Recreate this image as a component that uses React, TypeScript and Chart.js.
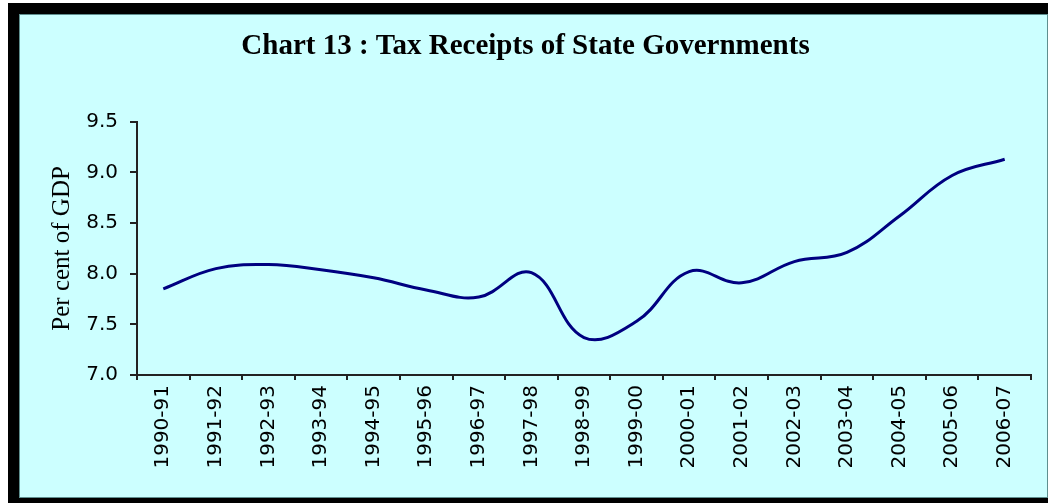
import React, { useEffect, useRef } from "react";
import { Chart, registerables } from "chart.js";

Chart.register(...registerables);

const categories = [
  "1990-91", "1991-92", "1992-93", "1993-94", "1994-95", "1995-96",
  "1996-97", "1997-98", "1998-99", "1999-00", "2000-01", "2001-02",
  "2002-03", "2003-04", "2004-05", "2005-06", "2006-07",
];

const taxReceipts = [
  7.85, 8.05, 8.09, 8.04, 7.96, 7.84, 7.77, 8.01, 7.37, 7.53, 8.02, 7.91,
  8.12, 8.21, 8.57, 8.97, 9.13,
];

const yTicks = [7.0, 7.5, 8.0, 8.5, 9.0, 9.5];

const titleText = "Chart 13 : Tax Receipts of State Governments";
const yTitle = "Per cent of GDP";

const CW = 1027;
const CH = 482;

export default function App() {
  const ref = useRef<HTMLCanvasElement | null>(null);

  useEffect(() => {
    if (!ref.current) return;
    const chart = new Chart(ref.current, {
      type: "line",
      data: {
        labels: categories,
        datasets: [
          {
            data: taxReceipts,
            borderColor: "#000080",
            borderWidth: 3,
            pointRadius: 0,
            tension: 0.4,
            fill: false,
          },
        ],
      },
      options: {
        responsive: false,
        animation: false,
        devicePixelRatio: 1,
        layout: { padding: { left: 0, right: 16, top: 0, bottom: 0 } },
        plugins: {
          legend: { display: false },
          tooltip: { enabled: false },
          title: {
            display: true,
            text: titleText,
            color: "#000",
            font: { family: "'Liberation Serif', 'Times New Roman', serif", size: 29, weight: "bold" },
            padding: { top: 14, bottom: 58 },
          },
        },
        scales: {
          x: {
            type: "category",
            offset: true,
            grid: {
              offset: true,
              drawOnChartArea: false,
              drawTicks: true,
              tickLength: 5,
              color: "#222",
              lineWidth: 2,
            },
            border: { display: true, color: "#222", width: 2 },
            ticks: {
              autoSkip: false,
              maxRotation: 90,
              minRotation: 90,
              padding: 5,
              color: "#000",
              font: { family: "'DejaVu Sans', sans-serif", size: 20 },
            },
            afterFit: (scale: any) => {
              scale.height = 122;
            },
          },
          y: {
            min: 7,
            max: 9.5,
            afterBuildTicks: (scale: any) => {
              scale.ticks = yTicks.map((v) => ({ value: v }));
            },
            grid: {
              drawOnChartArea: false,
              drawTicks: true,
              tickLength: 7,
              color: "#222",
              lineWidth: 2,
            },
            border: { display: true, color: "#222", width: 2 },
            ticks: {
              padding: 12,
              color: "#000",
              font: { family: "'DejaVu Sans', sans-serif", size: 20 },
              callback: (v: any) => Number(v).toFixed(1),
            },
            title: {
              display: true,
              text: yTitle,
              color: "#000",
              font: { family: "'Liberation Serif', 'Times New Roman', serif", size: 25 },
              padding: { top: 27, bottom: 0 },
            },
            afterFit: (scale: any) => {
              scale.width = 117;
            },
          },
        },
      },
    });
    return () => chart.destroy();
  }, []);

  return (
    <div style={{ position: "absolute", left: 0, top: 0, width: 1052, height: 504, background: "#fff" }}>
      <div style={{ position: "absolute", left: 8, top: 3, width: 1040, height: 500, background: "#000" }} />
      <div
        style={{
          position: "absolute",
          left: 19,
          top: 14,
          width: CW,
          height: CH,
          background: "#CCFFFF",
          border: "1px solid #5f8f8f",
        }}
      >
        <canvas ref={ref} width={CW} height={CH} style={{ display: "block", width: CW, height: CH }} />
      </div>
    </div>
  );
}
